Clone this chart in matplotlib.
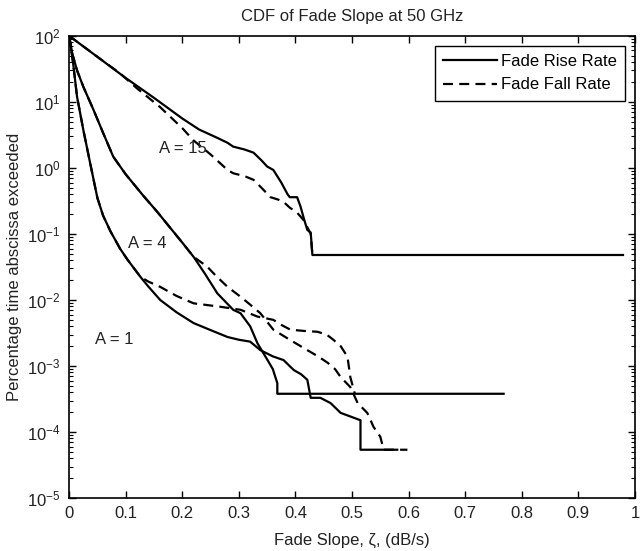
import matplotlib
matplotlib.use('Agg')
import matplotlib.pyplot as plt
from matplotlib.ticker import LogLocator, FixedLocator

plt.rcParams['font.family'] = ['Liberation Sans', 'DejaVu Sans']

# ── Data ──────────────────────────────────────────────────────
a15_rise_x = [0, 0.05, 0.1, 0.15, 0.2, 0.23, 0.26, 0.28, 0.29, 0.31, 0.326, 0.34,
              0.35, 0.361, 0.375, 0.386, 0.39, 0.403, 0.409, 0.415, 0.421, 0.427,
              0.43, 0.979]
a15_rise_y = [100, 48, 23, 11.5, 5.6, 3.8, 2.9, 2.4, 2.1, 1.9, 1.7, 1.3,
              1.05, 0.93, 0.6, 0.4, 0.36, 0.36, 0.26, 0.17, 0.115, 0.105,
              0.048, 0.048]
a15_fall_x = [0, 0.05, 0.09, 0.12, 0.161, 0.2, 0.22, 0.25, 0.28, 0.29, 0.31, 0.326,
              0.34, 0.356, 0.37, 0.38, 0.39, 0.403, 0.415, 0.427, 0.43]
a15_fall_y = [100, 48, 27, 16, 8.3, 4.0, 2.6, 1.6, 0.93, 0.83, 0.75, 0.66,
              0.5, 0.36, 0.33, 0.30, 0.25, 0.21, 0.16, 0.10, 0.048]

a4_rise_x = [0, 0.005, 0.014, 0.025, 0.043, 0.06, 0.078, 0.1, 0.131, 0.155, 0.177,
             0.2, 0.22, 0.24, 0.262, 0.29, 0.303, 0.32, 0.333, 0.35, 0.36, 0.368,
             0.368, 0.768]
a4_rise_y = [100, 56, 30, 17, 7.6, 3.4, 1.48, 0.8, 0.38, 0.22, 0.129,
             0.074, 0.045, 0.025, 0.0126, 0.0071, 0.0063, 0.004, 0.0022, 0.00126,
             0.0009, 0.00055, 0.00038, 0.00038]
a4_fall_x = [0, 0.005, 0.014, 0.025, 0.043, 0.06, 0.078, 0.1, 0.131, 0.155, 0.177,
             0.2, 0.22, 0.244, 0.26, 0.28, 0.303, 0.32, 0.338, 0.361, 0.39, 0.421,
             0.44, 0.457, 0.47, 0.48, 0.497, 0.51, 0.527, 0.538, 0.55, 0.556, 0.598]
a4_fall_y = [100, 56, 30, 17, 7.6, 3.4, 1.48, 0.8, 0.38, 0.22, 0.129,
             0.074, 0.045, 0.032, 0.023, 0.0158, 0.0112, 0.0085, 0.0063, 0.00355,
             0.0025, 0.00174, 0.0014, 0.00112, 0.0009, 0.00068, 0.00048, 0.000275,
             0.000195, 0.00012, 8.5e-5, 5.4e-5, 5.4e-5]

a1_rise_x = [0, 0.004, 0.007, 0.014, 0.025, 0.037, 0.05, 0.06, 0.073, 0.09, 0.103,
             0.126, 0.14, 0.161, 0.19, 0.22, 0.25, 0.28, 0.3, 0.32, 0.338, 0.36,
             0.379, 0.397, 0.41, 0.421, 0.427, 0.444, 0.462, 0.48, 0.515, 0.515, 0.58]
a1_rise_y = [100, 60, 38.9, 12.0, 3.8, 1.2, 0.35, 0.19, 0.11, 0.06, 0.041,
             0.0224, 0.016, 0.01, 0.0065, 0.00447, 0.0035, 0.00275, 0.0025, 0.00234,
             0.00174, 0.0014, 0.00123, 0.00087, 0.00075, 0.00062, 0.00033, 0.00033,
             0.000275, 0.000195, 0.000151, 5.4e-5, 5.4e-5]
a1_fall_x = [0, 0.004, 0.007, 0.014, 0.025, 0.037, 0.05, 0.06, 0.073, 0.09, 0.103,
             0.126, 0.14, 0.161, 0.19, 0.22, 0.267, 0.303, 0.333, 0.361, 0.375, 0.391,
             0.415, 0.439, 0.455, 0.467, 0.48, 0.492, 0.497, 0.503, 0.505]
a1_fall_y = [100, 60, 38.9, 12.0, 3.8, 1.2, 0.35, 0.19, 0.11, 0.06, 0.041,
             0.0224, 0.019, 0.0158, 0.0115, 0.0089, 0.0079, 0.0071, 0.0056, 0.005,
             0.0042, 0.00355, 0.0034, 0.0033, 0.003, 0.0025, 0.002, 0.00138,
             0.00068, 0.00044, 0.00038]

labels = ['A = 15', 'A = 4', 'A = 1']
label_xy = [(0.158, 2.0), (0.104, 0.072), (0.046, 0.0025)]
xticks = [0, 0.1, 0.2, 0.3, 0.4, 0.5, 0.6, 0.7, 0.8, 0.9, 1]
xtick_labels = ['0', '0.1', '0.2', '0.3', '0.4', '0.5', '0.6', '0.7', '0.8', '0.9', '1']

# ── Plot ──────────────────────────────────────────────────────
TXT = '#222222'
fig = plt.figure(figsize=(6.4, 5.51), dpi=100, facecolor='white')
ax = fig.add_axes([0.108, 0.096, 0.884, 0.839])

kw = dict(color='black', lw=1.6)
dash = (0, (4.5, 2.8))
l1, = ax.plot(a15_rise_x, a15_rise_y, **kw)
l2, = ax.plot(a15_fall_x, a15_fall_y, ls=dash, **kw)
ax.plot(a4_rise_x, a4_rise_y, **kw)
ax.plot(a4_fall_x, a4_fall_y, ls=dash, **kw)
ax.plot(a1_rise_x, a1_rise_y, **kw)
ax.plot(a1_fall_x, a1_fall_y, ls=dash, **kw)

for lab, (x, y) in zip(labels, label_xy):
    ax.text(x, y, lab, fontsize=12, color=TXT, ha='left', va='center')

ax.set_yscale('log')
ax.set_xlim(0, 1)
ax.set_ylim(1e-5, 1e2)
ax.xaxis.set_major_locator(FixedLocator(xticks))
ax.set_xticklabels(xtick_labels)
ax.yaxis.set_major_locator(LogLocator(base=10, numticks=10))
ax.yaxis.set_minor_locator(LogLocator(base=10, subs=range(2, 10), numticks=20))
ax.tick_params(which='both', direction='in', top=True, right=True, labelsize=12,
               colors='black', labelcolor=TXT)
ax.tick_params(which='major', length=5, width=1)
ax.tick_params(axis='x', which='major', pad=6)
ax.tick_params(axis='y', which='major', pad=6)
ax.tick_params(which='minor', length=3, width=0.8)
for sp in ax.spines.values():
    sp.set_linewidth(1.2)

ax.set_title('CDF of Fade Slope at 50 GHz', fontsize=12, color=TXT, pad=11)
ax.set_xlabel('Fade Slope, ζ, (dB/s)', fontsize=12, color=TXT, labelpad=8)
ax.set_ylabel('Percentage time abscissa exceeded', fontsize=12, color=TXT, labelpad=4)

leg = ax.legend([l1, l2], ['Fade Rise Rate', 'Fade Fall Rate'], loc='upper right',
                fontsize=12, fancybox=False, edgecolor='black', framealpha=1,
                handlelength=3.2, handletextpad=0.25, borderaxespad=0.6,
                borderpad=0.5, labelspacing=0.5)
leg.get_frame().set_linewidth(1.0)

fig.savefig('out.png', dpi=100, facecolor='white')
